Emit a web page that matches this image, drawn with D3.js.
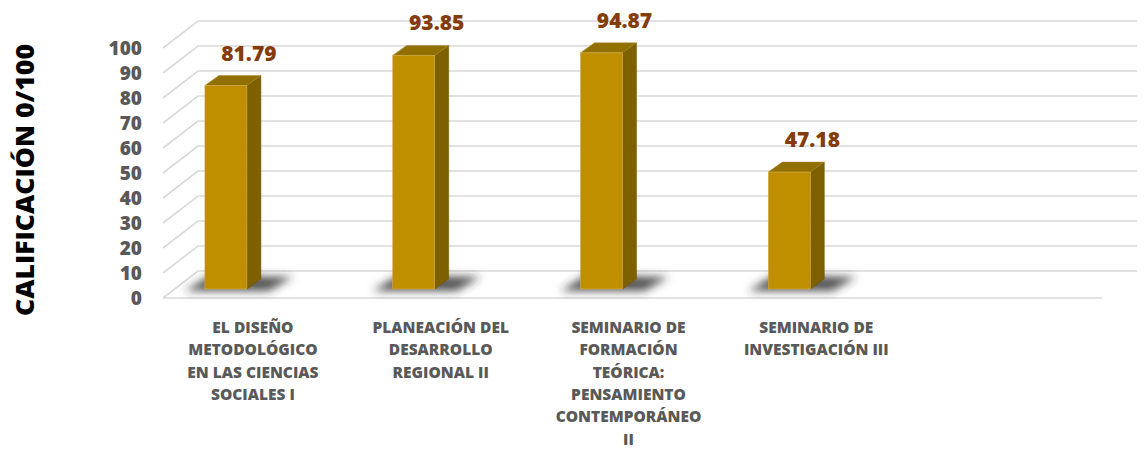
<!DOCTYPE html>
<html lang="es">
<head>
<meta charset="utf-8">
<title>calificaciones</title>
<script src="https://d3js.org/d3.v7.min.js"></script>
<style>
  body { margin: 0; background: #fff; }
  svg text { font-family: "Open Sans", Lato, sans-serif; font-weight: 800; }
</style>
</head>
<body>
<svg id="chart" width="1146" height="463"></svg>
<script>
// data
var categorias = [
  ["EL DISEÑO", "METODOLÓGICO", "EN LAS CIENCIAS", "SOCIALES I"],
  ["PLANEACIÓN DEL", "DESARROLLO", "REGIONAL II"],
  ["SEMINARIO DE", "FORMACIÓN", "TEÓRICA:", "PENSAMIENTO", "CONTEMPORÁNEO", "II"],
  ["SEMINARIO DE", "INVESTIGACIÓN III"]
]
var valores = [81.79, 93.85, 94.87, 47.18]
var ticks = d3.range(0, 101, 10)
var tituloY = "CALIFICACIÓN 0/100"

// layout
var W = 1146, H = 463
var floorL = 163, floorR = 1102, floorY = 298
var depth = {dx: 35, dy: -27}   // profundidad de la caja 3d
var barW = 42, barSide = {dx: 14, dy: -10}
var barDepth = 9                 // la cara frontal de la barra va un poco atras

var svg = d3.select("#chart")

var y = d3.scaleLinear().domain([0, 100]).range([floorY, 48])
// 5 huecos, el ultimo queda vacio
var x = d3.scaleBand().domain(d3.range(5)).range([floorL, floorR])
function cx(i) { return x(i) + x.bandwidth() / 2 }

var defs = svg.append("defs")
defs.append("filter").attr("id", "blur")
  .attr("x", "-50%").attr("y", "-100%").attr("width", "200%").attr("height", "300%")
  .append("feGaussianBlur").attr("stdDeviation", 4.5)

var grid = svg.append("g")
var gridColor = "#d9d9d9"

// suelo
grid.append("path")
  .attr("d", "M" + floorL + "," + floorY + "L" + floorR + "," + floorY)
  .attr("stroke", gridColor).attr("stroke-width", 1.6).attr("fill", "none")

// lineas del fondo y de la pared izquierda
ticks.forEach(function(t) {
  var yy = y(t)
  grid.append("path")
    .attr("d", "M" + floorL + "," + yy + "L" + (floorL + depth.dx) + "," + (yy + depth.dy) +
      "L" + (floorR + depth.dx) + "," + (yy + depth.dy))
    .attr("stroke", gridColor).attr("stroke-width", 1.6).attr("fill", "none")
})

// sombras
var shadows = svg.append("g").attr("filter", "url(#blur)")
valores.forEach(function(v, i) {
  var c = cx(i)
  shadows.append("path")
    .attr("d", "M" + (c - 72) + "," + (floorY - 7) + "L" + (c + 12) + "," + (floorY - 7) +
      "L" + (c + 36) + "," + (floorY - 21) + "L" + (c - 46) + "," + (floorY - 23) + "Z")
    .attr("fill", "#2b2b2b").attr("opacity", 0.8)
})

// barras
var bars = svg.append("g")
valores.forEach(function(v, i) {
  var x0 = cx(i) - 52, x1 = x0 + barW
  var yb = floorY - barDepth, yt = y(v) - barDepth + 1
  var g = bars.append("g")
  // lado
  g.append("path")
    .attr("d", "M" + x1 + "," + yb + "L" + x1 + "," + yt + "L" + (x1 + barSide.dx) + "," + (yt + barSide.dy) +
      "L" + (x1 + barSide.dx) + "," + (yb + barSide.dy) + "Z")
    .attr("fill", "#7f6000").attr("stroke", "#6b5200").attr("stroke-width", 0.5)
  // arriba
  g.append("path")
    .attr("d", "M" + x0 + "," + yt + "L" + x1 + "," + yt + "L" + (x1 + barSide.dx) + "," + (yt + barSide.dy) +
      "L" + (x0 + barSide.dx) + "," + (yt + barSide.dy) + "Z")
    .attr("fill", "#927000").attr("stroke", "#a88a2a").attr("stroke-width", 0.5)
  // frente
  g.append("rect")
    .attr("x", x0).attr("y", yt).attr("width", barW).attr("height", yb - yt)
    .attr("fill", "#bf8f00").attr("stroke", "#d4ad4a").attr("stroke-width", 0.6)
  // etiqueta de valor
  svg.append("text")
    .attr("x", cx(i) - 8).attr("y", yt - 25)
    .attr("text-anchor", "middle")
    .attr("fill", "#843c0c").attr("font-size", 21)
    .text(v.toFixed(2))
})

// eje y
var yAxis = svg.append("g")
  .attr("transform", "translate(142,0)")
  .call(d3.axisLeft(y).tickValues(ticks).tickSize(0).tickPadding(0))
yAxis.select(".domain").remove()
yAxis.selectAll("text")
  .attr("fill", "#595959").attr("font-size", 19)
  .style("font-family", "'Open Sans', sans-serif").style("font-weight", 800)

// etiquetas de categorias
categorias.forEach(function(lines, i) {
  var t = svg.append("text")
    .attr("text-anchor", "middle")
    .attr("fill", "#595959").attr("font-size", 15.5)
  lines.forEach(function(l, k) {
    t.append("tspan").attr("x", cx(i) - 4).attr("y", 333 + k * 22.3).text(l)
  })
})

// titulo eje y
svg.append("text")
  .attr("transform", "translate(34,180) rotate(-90)")
  .attr("text-anchor", "middle")
  .attr("fill", "#000").attr("font-size", 24)
  .attr("textLength", 272).attr("lengthAdjust", "spacingAndGlyphs")
  .text(tituloY)
</script>
</body>
</html>
